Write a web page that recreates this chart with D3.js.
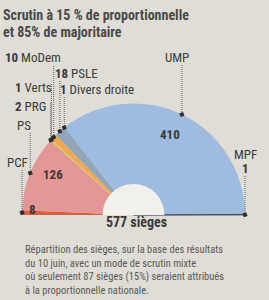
<!DOCTYPE html>
<html><head><meta charset="utf-8">
<script src="https://cdn.jsdelivr.net/npm/d3@7"></script>
<style>
html,body{margin:0;padding:0;background:#dfddd6;}
svg{display:block;}
</style></head>
<body>
<svg id="chart" width="269" height="300"></svg>
<script>
// ---- data ----
const parties = ["PCF","PS","PRG","Verts","MoDem","PSLE","Divers droite","UMP","MPF"];
const seats   = [8,126,2,1,10,18,1,410,1];
const partyColors = ["#d5603e","#e49896","#e6bf45","#bcc85a","#efa64c","#93a6b9","#5f7aa6","#9fbbe0","#3d4658"];
const totalLabel = "577 sièges";
const titleLines = ["Scrutin à 15 % de proportionnelle","et 85% de majoritaire"];
const captionLines = [
  "Répartition des sièges, sur la base des résultats",
  "du 10 juin, avec un mode de scrutin mixte",
  "où seulement 87 sièges (15%)  seraient attribués",
  "à la proportionnelle nationale."
];

// ---- layout (positions only) ----
const FONT = "'Liberation Sans Narrow','Roboto Condensed','Arial Narrow',Roboto,sans-serif";
const cx = 133.5, cy = 215, R = 111.5, r0 = 31;
const labelLayout = {
  "PCF":          {x:7,   y:167, top:170, num:false},
  "PS":           {x:17,  y:130, top:133, num:false},
  "PRG":          {x:15,  y:111, top:103, num:true},
  "Verts":        {x:15,  y:92,  top:84,  num:true},
  "MoDem":        {x:5,   y:62,  top:66,  num:true},
  "PSLE":         {x:55,  y:78,  top:81,  num:true},
  "Divers droite":{x:60,  y:94,  top:97,  num:true},
  "UMP":          {x:165, y:62,  top:65,  num:false},
  "MPF":          {x:234, y:159, top:176, num:false}
};
const valueLayout = {
  "PCF": {x:29, y:214},
  "PS":  {x:43, y:179},
  "UMP": {x:160,y:139},
  "MPF": {x:242,y:173}
};

const svg = d3.select("#chart");

// title
svg.append("g").selectAll("text").data(titleLines).join("text")
  .attr("x",3).attr("y",(d,i)=>20+i*16.5)
  .attr("font-family",FONT).attr("font-size",14).attr("font-weight","bold")
  .attr("fill","#4a4a4a").text(d=>d);

const data = parties.map((p,i)=>({party:p, seats:seats[i], color:partyColors[i]}));
const pie = d3.pie().sort(null).value(d=>d.seats).startAngle(-Math.PI/2).endAngle(Math.PI/2);
const arcs = pie(data);
const arc = d3.arc().innerRadius(0).outerRadius(R);

const g = svg.append("g").attr("transform",`translate(${cx},${cy})`);
g.selectAll("path.slice").data(arcs).join("path")
  .attr("class","slice")
  .attr("d",arc)
  .attr("fill",d=>d.data.color)
  .attr("stroke",d=>d.data.party==="MPF"?d.data.color:"none")
  .attr("stroke-width",0.8);

// inner hole
g.append("path")
  .attr("d", d3.arc().innerRadius(0).outerRadius(r0).startAngle(-Math.PI/2).endAngle(Math.PI/2)())
  .attr("fill","#f1f0eb");

// leader lines & markers
const markerPos = d => {
  const a = (d.startAngle+d.endAngle)/2;
  return [cx + R*Math.sin(a), cy - R*Math.cos(a)];
};
const lg = svg.append("g");
arcs.forEach(d=>{
  const L = labelLayout[d.data.party];
  const [mx,my] = markerPos(d);
  lg.append("line").attr("x1",mx).attr("x2",mx).attr("y1",L.top).attr("y2",my)
    .attr("stroke","#555").attr("stroke-width",0.9).attr("stroke-dasharray","1,1");
});
arcs.forEach(d=>{
  const [mx,my] = markerPos(d);
  lg.append("rect").attr("x",mx-2).attr("y",my-2).attr("width",4).attr("height",4)
    .attr("fill","#2e2e2e").attr("transform",`rotate(-20,${mx},${my})`);
});

// party labels
arcs.forEach(d=>{
  const L = labelLayout[d.data.party];
  const t = svg.append("text").attr("x",L.x).attr("y",L.y)
    .attr("font-family",FONT).attr("font-size",13).attr("fill","#3c3c3c");
  if (L.num) {
    t.append("tspan").attr("font-weight","bold").text(d.data.seats);
    t.append("tspan").text(" "+d.data.party);
  } else {
    t.text(d.data.party);
  }
});

// value labels
arcs.forEach(d=>{
  const V = valueLayout[d.data.party];
  if (!V) return;
  svg.append("text").attr("x",V.x).attr("y",V.y)
    .attr("font-family",FONT).attr("font-size",13).attr("font-weight","bold")
    .attr("fill","#3a3a3a").text(d.data.seats);
});

// total
svg.append("text").attr("x",cx+3).attr("y",227).attr("text-anchor","middle")
  .attr("font-family",FONT).attr("font-size",14).attr("font-weight","bold")
  .attr("fill","#3a3a3a").text(totalLabel);

// caption
svg.append("g").selectAll("text").data(captionLines).join("text")
  .attr("x",25).attr("y",(d,i)=>253+i*13.7)
  .attr("font-family",FONT).attr("font-size",10.5)
  .attr("fill","#5a5a5a").text(d=>d);
</script>
</body></html>
